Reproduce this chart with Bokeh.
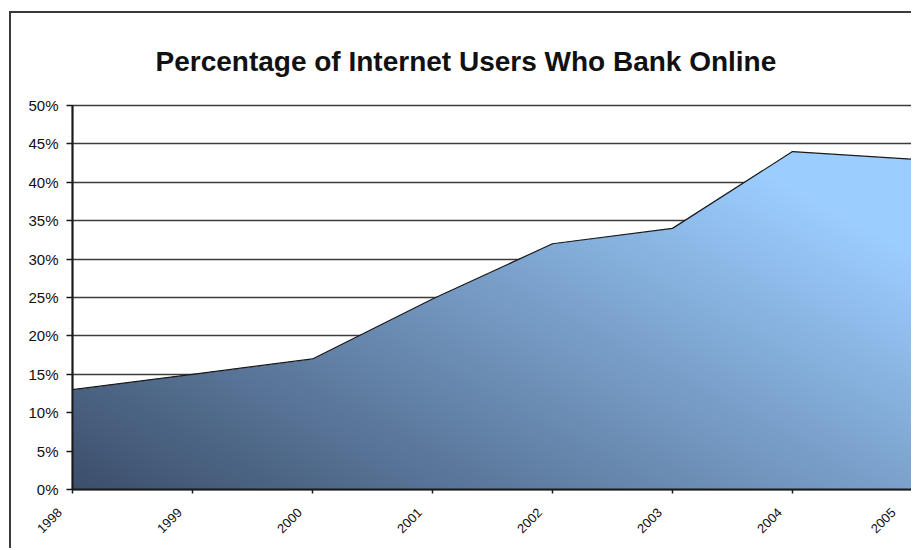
import numpy as np
from bokeh.plotting import figure
from bokeh.models import FixedTicker, PrintfTickFormatter, Range1d, AllLabels
from bokeh.embed import file_html
from bokeh.resources import INLINE

# ---- data ----
years = [1998, 1999, 2000, 2001, 2002, 2003, 2004, 2005]
year_labels = ["1998", "1999", "2000", "2001", "2002", "2003", "2004", "2005"]
pct_users = [13, 15, 17, 24.8, 32, 34, 44, 43]
y_ticks = [0, 5, 10, 15, 20, 25, 30, 35, 40, 45, 50]
title_text = "Percentage of Internet Users Who Bank Online"

x0, x1 = years[0], years[-1]
y0, y1 = y_ticks[0], y_ticks[-1]

p = figure(width=902, height=537, output_backend="svg", toolbar_location=None,
           x_range=Range1d(x0, x1), y_range=Range1d(y0, y1),
           min_border_left=61, min_border_right=1, min_border_top=92, min_border_bottom=61,
           background_fill_color="white", border_fill_color="white")
p.margin = (11, 0, 0, 9)
p.styles = {"border-top": "2px solid #3a3a3a", "border-left": "2px solid #3a3a3a"}

p.title.text = title_text
p.title.align = "left"
p.title.text_font = "Liberation Sans"
p.title.text_font_size = "28px"
p.title.text_font_style = "bold"
p.title.text_color = "#111111"
p.title.offset = 83
p.title.standoff = 58

# gradient area as an RGBA image masked by the data line
W, H = 840, 384
xs = x0 + (np.arange(W) + 0.5) / W * (x1 - x0)
ys = y0 + (np.arange(H) + 0.5) / H * (y1 - y0)
XX, YY = np.meshgrid(xs, ys)
top = np.interp(XX, years, pct_users)
xn = (XX - x0) / (x1 - x0)
yn = (YY - y0) / (y1 - y0)
t = np.clip(0.66 * xn + 0.56 * yn, 0, 1)
c0 = np.array([0x3c, 0x4f, 0x6b], dtype=float)
c1 = np.array([0x9c, 0xcd, 0xff], dtype=float)
rgb = c0[None, None, :] + (c1 - c0)[None, None, :] * t[..., None]
alpha = np.where(YY <= top, 255, 0)
img = np.zeros((H, W), dtype=np.uint32)
view = img.view(dtype=np.uint8).reshape((H, W, 4))
view[..., 0] = rgb[..., 0].astype(np.uint8)
view[..., 1] = rgb[..., 1].astype(np.uint8)
view[..., 2] = rgb[..., 2].astype(np.uint8)
view[..., 3] = alpha.astype(np.uint8)
p.image_rgba(image=[img], x=x0, y=y0, dw=x1 - x0, dh=y1 - y0)

p.line(years, pct_users, line_color="#1a1a1a", line_width=1.2)

# axes
p.xaxis.ticker = FixedTicker(ticks=years)
p.xaxis.major_label_policy = AllLabels()
# trailing no-break spaces make each rotated label end a little left of its tick
p.xaxis.major_label_overrides = {yr: txt + "\u00a0" * 5 for yr, txt in zip(years, year_labels)}
p.xaxis.major_label_orientation = np.pi / 4
p.xaxis.major_label_text_font_size = "13px"
p.xaxis.major_label_standoff = 4
p.xaxis.major_tick_out = 4

p.yaxis.ticker = FixedTicker(ticks=y_ticks)
p.yaxis.formatter = PrintfTickFormatter(format="%d%%")
p.yaxis.major_label_text_font_size = "15px"
p.yaxis.major_tick_out = 6
p.yaxis.major_label_standoff = 8

for ax in (p.xaxis[0], p.yaxis[0]):
    ax.axis_line_color = "#1a1a1a"
    ax.axis_line_width = 2
    ax.major_tick_line_color = "#1a1a1a"
    ax.major_tick_line_width = 1.5
    ax.major_tick_in = 0
    ax.minor_tick_line_color = None
    ax.major_label_text_font = "Liberation Sans"
    ax.major_label_text_color = "#111111"

p.xgrid.grid_line_color = None
p.ygrid.grid_line_color = "#3c3c3c"
p.ygrid.grid_line_width = 1.5
p.outline_line_color = "#3c3c3c"
p.outline_line_width = 1.5

open("out.html", "w").write(file_html(p, INLINE))
